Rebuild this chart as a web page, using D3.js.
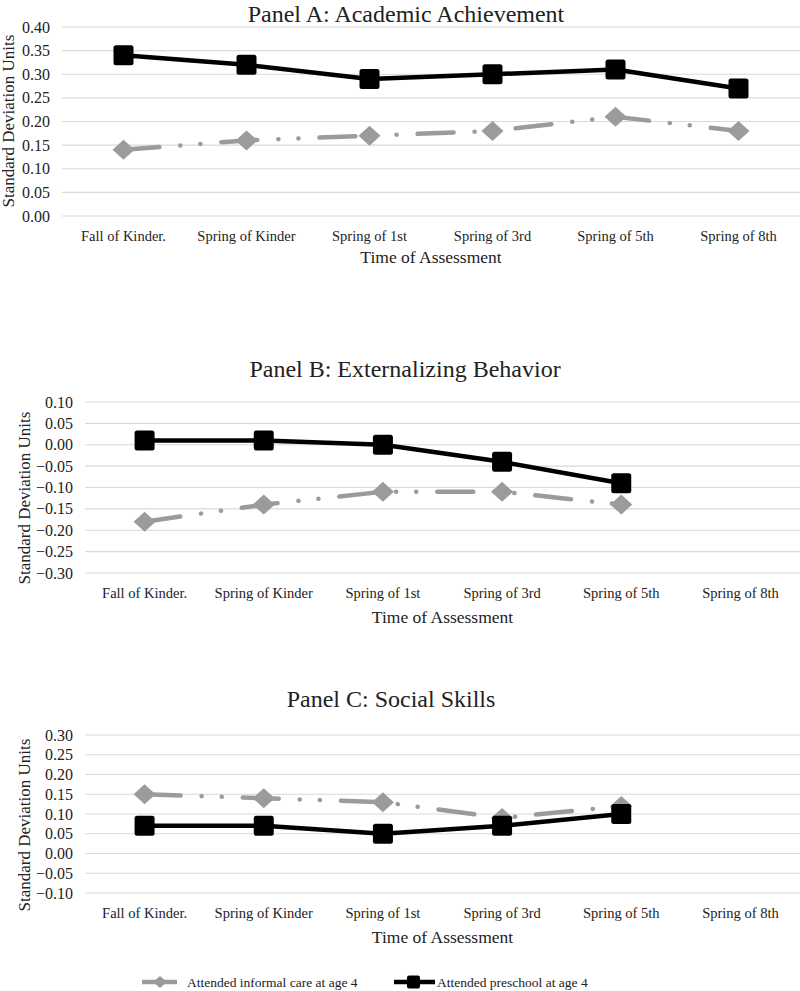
<!DOCTYPE html>
<html>
<head>
<meta charset="utf-8">
<script src="https://cdn.jsdelivr.net/npm/d3@7"></script>
<style>
  body { margin: 0; background: #fff; }
  svg { display: block; font-family: "Liberation Serif", "Times New Roman", serif; }
</style>
</head>
<body>
<svg id="chart" width="800" height="991"></svg>
<script>
// ---------- DATA ----------
const categories = ["Fall of Kinder.", "Spring of Kinder", "Spring of 1st", "Spring of 3rd", "Spring of 5th", "Spring of 8th"];
const panelTitles = ["Panel A: Academic Achievement", "Panel B: Externalizing Behavior", "Panel C: Social Skills"];
const seriesNames = ["Attended informal care at age 4", "Attended preschool at age 4"];

const informalA  = [0.14, 0.16, 0.17, 0.18, 0.21, 0.18];
const preschoolA = [0.34, 0.32, 0.29, 0.30, 0.31, 0.27];
const informalB  = [-0.18, -0.14, -0.11, -0.11, -0.14];
const preschoolB = [0.01, 0.01, 0.00, -0.04, -0.09];
const informalC  = [0.15, 0.14, 0.13, 0.09, 0.12];
const preschoolC = [0.07, 0.07, 0.05, 0.07, 0.10];

const yTicksA = [0.00, 0.05, 0.10, 0.15, 0.20, 0.25, 0.30, 0.35, 0.40];
const yTicksB = [-0.30, -0.25, -0.20, -0.15, -0.10, -0.05, 0.00, 0.05, 0.10];
const yTicksC = [-0.10, -0.05, 0.00, 0.05, 0.10, 0.15, 0.20, 0.25, 0.30];

const yAxisTitle = "Standard Deviation Units";
const xAxisTitle = "Time of Assessment";

// ---------- LAYOUT ----------
const svg = d3.select("#chart");
const GRAY = "#9b9b9b";
const GRID = "#d9d9d9";

const panels = [
  { title: panelTitles[0], informal: informalA, preschool: preschoolA, ticks: yTicksA,
    left: 62, right: 800, top: 27, bottom: 216, titleY: 21.5, xLabY: 241, xTitleY: 263, yLabX: 14, yLabCY: 121, titleX: 406 },
  { title: panelTitles[1], informal: informalB, preschool: preschoolB, ticks: yTicksB,
    left: 85, right: 800, top: 402, bottom: 573, titleY: 377, xLabY: 598, xTitleY: 623, yLabX: 30, yLabCY: 498, titleX: 405 },
  { title: panelTitles[2], informal: informalC, preschool: preschoolC, ticks: yTicksC,
    left: 85, right: 800, top: 735, bottom: 893, titleY: 707, xLabY: 918, xTitleY: 943, yLabX: 30, yLabCY: 825, titleX: 391 }
];

const diamondPath = (w, h) => `M0,${-h/2}L${w/2},0L0,${h/2}L${-w/2},0Z`;

panels.forEach(p => {
  const g = svg.append("g");
  const x = d3.scaleBand().domain(categories).range([p.left, p.right]);
  const y = d3.scaleLinear().domain(d3.extent(p.ticks)).range([p.bottom, p.top]);

  // gridlines
  g.selectAll("line.grid").data(p.ticks).join("line")
    .attr("x1", p.left).attr("x2", p.right)
    .attr("y1", d => y(d)).attr("y2", d => y(d))
    .attr("stroke", GRID).attr("stroke-width", 1.2);

  // y tick labels
  g.selectAll("text.ytick").data(p.ticks).join("text")
    .attr("x", p.left - 12).attr("y", d => y(d))
    .attr("dy", "0.35em").attr("text-anchor", "end")
    .attr("font-size", 16).attr("fill", "#222")
    .text(d => d3.format(".2f")(d));

  // x tick labels
  g.selectAll("text.xtick").data(categories).join("text")
    .attr("x", d => x(d) + x.bandwidth() / 2).attr("y", p.xLabY)
    .attr("text-anchor", "middle").attr("font-size", 14.5).attr("fill", "#222")
    .text(d => d);

  // titles
  g.append("text").attr("x", p.titleX).attr("y", p.titleY)
    .attr("text-anchor", "middle").attr("font-size", 24).attr("fill", "#222")
    .text(p.title);
  g.append("text").attr("x", (p.left + p.right) / 2).attr("y", p.xTitleY)
    .attr("text-anchor", "middle").attr("font-size", 17.5).attr("fill", "#222")
    .text(xAxisTitle);
  g.append("text")
    .attr("transform", `translate(${p.yLabX},${p.yLabCY}) rotate(-90)`)
    .attr("text-anchor", "middle").attr("font-size", 17).attr("fill", "#222")
    .text(yAxisTitle);

  const cx = i => x(categories[i]) + x.bandwidth() / 2;
  const line = d3.line().x((d, i) => cx(i)).y(d => y(d));

  // informal line (dash-dot-dot)
  g.append("path").datum(p.informal)
    .attr("d", line).attr("fill", "none")
    .attr("stroke", GRAY).attr("stroke-width", 4.5)
    .attr("stroke-linecap", "round")
    .attr("stroke-dasharray", "36 21 0.1 20 0.1 21");

  // preschool line
  g.append("path").datum(p.preschool)
    .attr("d", line).attr("fill", "none")
    .attr("stroke", "#000").attr("stroke-width", 4.5)
    .attr("stroke-linejoin", "round");

  // informal markers
  g.selectAll("path.dia").data(p.informal).join("path")
    .attr("transform", (d, i) => `translate(${cx(i)},${y(d)})`)
    .attr("d", diamondPath(22, 20)).attr("fill", GRAY);

  // preschool markers
  g.selectAll("rect.sq").data(p.preschool).join("rect")
    .attr("x", (d, i) => cx(i) - 10).attr("y", d => y(d) - 10)
    .attr("width", 20).attr("height", 20).attr("rx", 2.5)
    .attr("fill", "#000");
});

// ---------- LEGEND ----------
const leg = svg.append("g");
const legY = 982;
// informal
leg.append("line").attr("x1", 142).attr("x2", 177).attr("y1", legY).attr("y2", legY)
  .attr("stroke", GRAY).attr("stroke-width", 4.5);
leg.append("path").attr("transform", `translate(160,${legY})`).attr("d", diamondPath(14, 12)).attr("fill", GRAY);
leg.append("text").attr("x", 187).attr("y", legY + 4.5).attr("font-size", 13.5).attr("fill", "#222").text(seriesNames[0]);
// preschool
leg.append("line").attr("x1", 394).attr("x2", 435).attr("y1", legY).attr("y2", legY)
  .attr("stroke", "#000").attr("stroke-width", 4.5);
leg.append("rect").attr("x", 407).attr("y", legY - 6.5).attr("width", 13).attr("height", 13).attr("rx", 2).attr("fill", "#000");
leg.append("text").attr("x", 437).attr("y", legY + 4.5).attr("font-size", 13.5).attr("fill", "#222").text(seriesNames[1]);
</script>
</body>
</html>
